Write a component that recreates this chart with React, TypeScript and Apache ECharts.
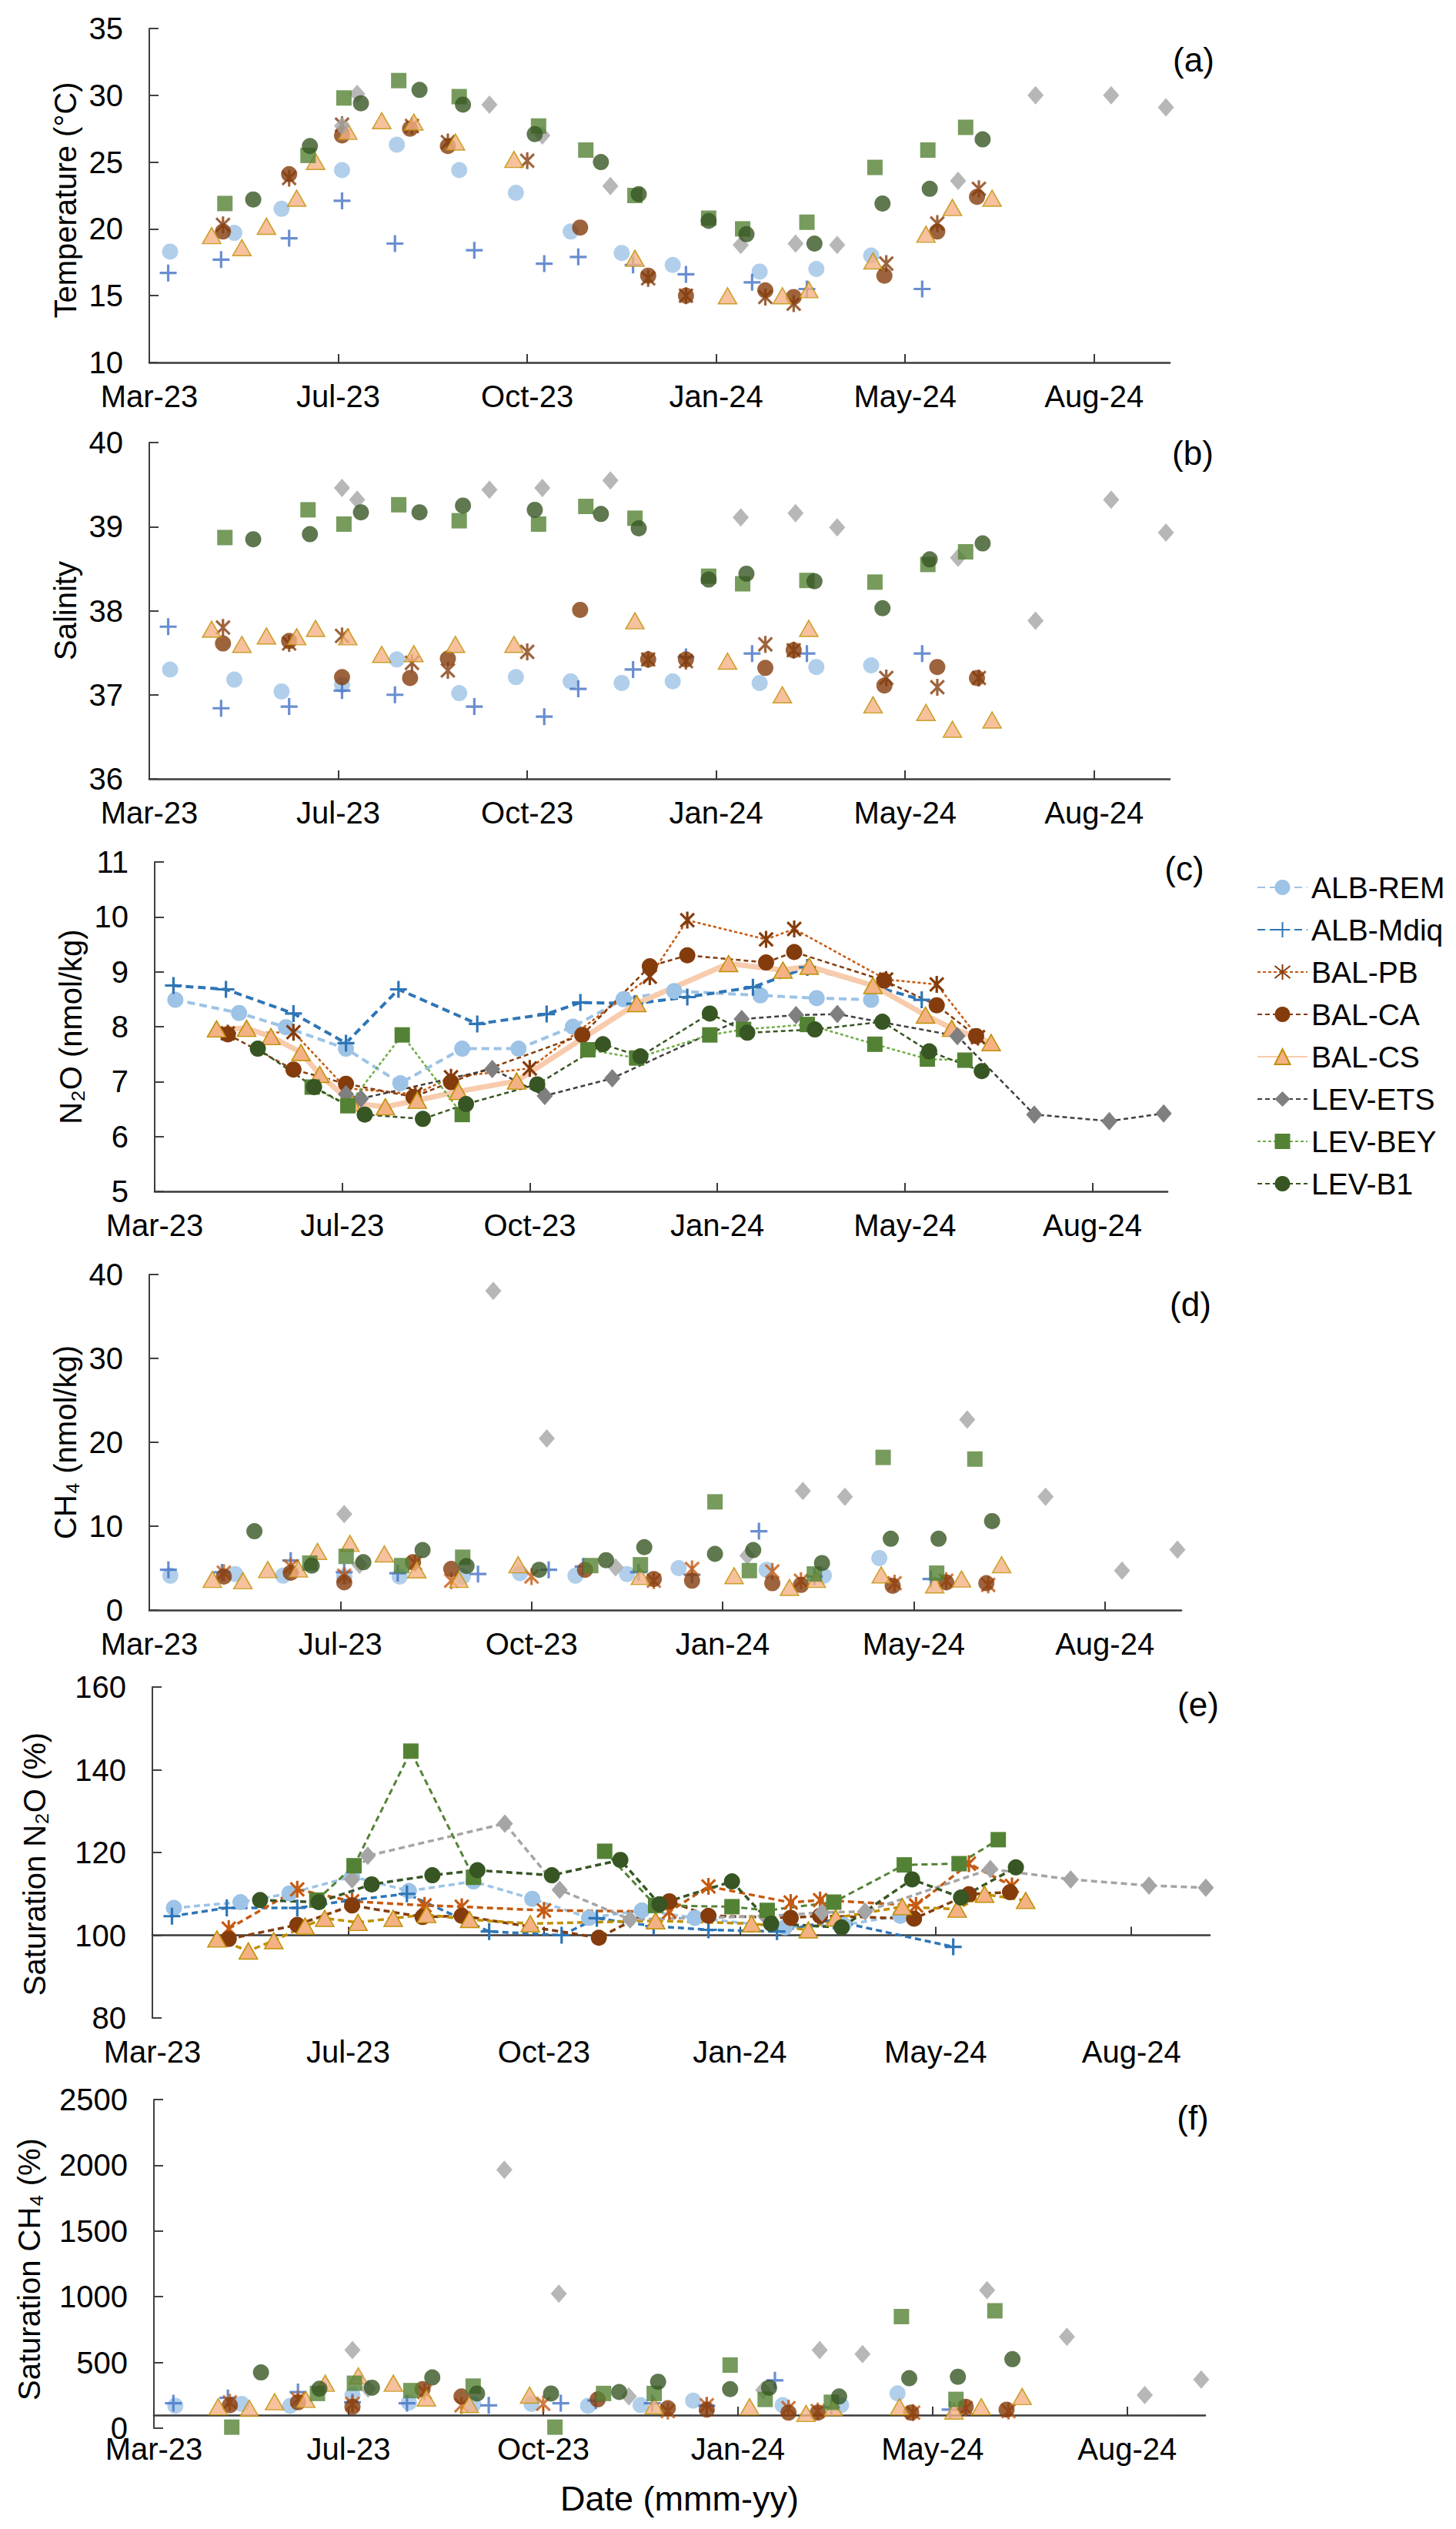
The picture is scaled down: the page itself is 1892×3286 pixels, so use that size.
import React, { useEffect, useRef } from "react";
import * as echarts from "echarts";

// x values: days since 30 Mar 2023 (axis origin, labelled "Mar-23")
const X_TICKS = [0, 100, 200, 300, 400, 500];
const MONTHS = ["Jan", "Feb", "Mar", "Apr", "May", "Jun", "Jul", "Aug", "Sep", "Oct", "Nov", "Dec"];
const ORIGIN = Date.UTC(2023, 2, 30);

// ---------- ALB-REM ----------
const ALB_REM_DAY = [11, 45, 70, 102, 131, 164, 194, 223, 250, 277, 323, 353, 382];
const ALB_REM_T = [18.3, 19.7, 21.5, 24.4, 26.3, 24.4, 22.7, 19.8, 18.2, 17.3, 16.8, 17.0, 18.0];
const ALB_REM_S = [37.3, 37.18, 37.04, 37.12, 37.42, 37.02, 37.21, 37.16, 37.14, 37.16, 37.14, 37.33, 37.35];
const ALB_REM_N2O = [8.49, 8.25, 7.99, 7.6, 6.97, 7.6, 7.6, 8.0, 8.5, 8.65, 8.57, 8.52, 8.49];
const ALB_REM_CH4 = [4.1, 4.3, 4.1, 4.0, 4.0, 4.0, 4.4, 4.1, 4.3, 5.0, 4.8, 4.1, 6.2];
const ALB_REM_SATN2O = [106.6, 108.0, 110.1, 114.2, 110.7, 113.0, 108.8, 104.2, 106.0, 104.2, 101.9, 102.5, 104.7];
const ALB_REM_SATCH4 = [170, 185, 170, 250, 195, 180, 185, 170, 175, 210, 175, 175, 265];

// ---------- ALB-Mdiq ----------
const ALB_MDIQ_DAY = [10, 38, 74, 102, 130, 172, 209, 227, 256, 284, 319, 348, 409];
const ALB_MDIQ_T = [16.7, 17.7, 19.3, 22.1, 18.9, 18.4, 17.4, 17.9, 17.3, 16.6, 16.0, 15.5, 15.5];
const ALB_MDIQ_S = [37.81, 36.84, 36.86, 37.05, 37.0, 36.86, 36.74, 37.07, 37.3, 37.45, 37.49, 37.49, 37.49];
const ALB_MDIQ_N2O = [8.75, 8.68, 8.24, 7.7, 8.68, 8.05, 8.23, 8.44, 8.42, 8.54, 8.72, 9.08, 8.49];
const ALB_MDIQ_CH4 = [4.8, 4.5, 5.9, 4.5, 4.4, 4.3, 4.8, 5.2, 4.5, 4.2, 9.4, 4.0, 3.7];
const ALB_MDIQ_SATN2O = [104.6, 106.6, 106.6, 108.5, 110.0, 100.9, 100.0, 104.1, 102.2, 101.3, 100.9, 103.5, 97.2];
const ALB_MDIQ_SATCH4 = [190, 230, 275, 197, 190, 174, 190, 210, 190, 170, 364, 160, 141];

// ---------- BAL-PB ----------
const BAL_PB_DAY = [39, 74, 102, 139, 158, 200, 264, 284, 326, 341, 390, 417, 439];
const BAL_PB_T = [20.3, 23.8, 27.8, 27.7, 26.5, 25.1, 16.3, 15.0, 14.9, 14.4, 17.4, 20.4, 23.0];
const BAL_PB_S = [37.8, 37.61, 37.7, 37.38, 37.29, 37.51, 37.42, 37.4, 37.6, 37.53, 37.2, 37.09, 37.2];
const BAL_PB_N2O = [7.88, 7.9, 6.88, 6.77, 7.08, 7.24, 8.91, 9.94, 9.59, 9.78, 8.86, 8.77, 7.81];
const BAL_PB_CH4 = [4.45, 5.2, 4.1, 5.6, 3.5, 4.0, 3.5, 4.9, 4.6, 3.5, 3.2, 3.5, 3.0];
const BAL_PB_SATN2O = [101.6, 111.1, 108.2, 107.2, 106.9, 106.0, 105.7, 111.8, 107.9, 108.5, 107.2, 117.3, 111.9];
const BAL_PB_SATCH4 = [197, 219, 185, 275, 174, 185, 130, 174, 152, 130, 118, 152, 130];

// ---------- BAL-CA ----------
const BAL_CA_DAY = [39, 74, 102, 138, 158, 228, 264, 284, 326, 341, 389, 417, 438];
const BAL_CA_T = [19.8, 24.1, 27.0, 27.5, 26.2, 20.1, 16.5, 15.0, 15.4, 14.9, 16.5, 19.8, 22.4];
const BAL_CA_S = [37.61, 37.64, 37.21, 37.2, 37.43, 38.01, 37.42, 37.42, 37.32, 37.53, 37.11, 37.33, 37.2];
const BAL_CA_N2O = [7.86, 7.22, 6.96, 6.72, 6.99, 7.85, 9.1, 9.3, 9.17, 9.36, 8.84, 8.39, 7.83];
const BAL_CA_CH4 = [4.0, 4.45, 3.3, 5.7, 4.9, 4.8, 3.7, 3.5, 3.2, 3.0, 2.9, 3.3, 3.2];
const BAL_CA_SATN2O = [99.1, 102.5, 107.2, 104.4, 104.7, 99.4, 108.2, 104.7, 104.2, 104.7, 104.0, 109.9, 110.4];
const BAL_CA_SATCH4 = [174, 197, 163, 297, 241, 219, 152, 141, 118, 118, 118, 163, 141];

// ---------- BAL-CS ----------
const BAL_CS_DAY = [33, 49, 62, 78, 88, 105, 123, 140, 162, 193, 257, 306, 335, 349, 383, 411, 425, 446];
const BAL_CS_T = [19.5, 18.6, 20.2, 22.3, 25.05, 27.3, 28.1, 28.0, 26.5, 25.2, 17.8, 15.0, 15.0, 15.45, 17.6, 19.6, 21.6, 22.3];
const BAL_CS_S = [37.78, 37.6, 37.7, 37.69, 37.79, 37.69, 37.48, 37.49, 37.6, 37.6, 37.88, 37.4, 37.0, 37.79, 36.88, 36.79, 36.59, 36.7];
const BAL_CS_N2O = [7.96, 7.97, 7.82, 7.53, 7.13, 6.61, 6.54, 6.66, 6.82, 7.01, 8.42, 9.15, 9.03, 9.1, 8.75, 8.21, 7.97, 7.71];
const BAL_CS_CH4 = [3.66, 3.5, 4.83, 4.9, 7.0, 7.95, 6.7, 4.8, 3.66, 5.4, 4.0, 4.1, 2.7, 3.66, 4.2, 3.0, 3.7, 5.4];
const BAL_CS_SATN2O = [99.1, 96.2, 98.7, 102.2, 104.1, 103.1, 104.1, 105.0, 103.8, 102.8, 103.5, 102.8, 101.3, 104.2, 106.9, 106.3, 109.9, 108.4];
const BAL_CS_SATCH4 = [163, 152, 201, 219, 342, 398, 342, 230, 180, 252, 170, 163, 112, 156, 163, 130, 163, 241];

// ---------- LEV-ETS ----------
const LEV_ETS_DAY = [102, 110, 180, 208, 244, 313, 342, 364, 428, 469, 509, 538];
const LEV_ETS_T = [27.7, 30.1, 29.3, 27.0, 23.2, 18.8, 18.9, 18.8, 23.6, 30.0, 30.0, 29.1];
const LEV_ETS_S = [39.46, 39.32, 39.44, 39.46, 39.55, 39.11, 39.16, 38.99, 38.63, 37.88, 39.32, 38.93];
const LEV_ETS_N2O = [6.77, 6.69, 7.23, 6.74, 7.06, 8.14, 8.21, 8.23, 7.83, 6.4, 6.28, 6.42];
const LEV_ETS_CH4 = [11.45, 5.4, 38.06, 20.45, 5.1, 6.5, 14.2, 13.5, 22.7, 13.5, 4.7, 7.2];
const LEV_ETS_SATN2O = [113.5, 119.2, 127.0, 111.0, 103.8, 104.6, 105.5, 105.7, 116.0, 113.5, 112.0, 111.5];
const LEV_ETS_SATCH4 = [594, 300, 1966, 1023, 241, 290, 594, 563, 1050, 695, 252, 371];

// ---------- LEV-BEY ----------
const LEV_BEY_DAY = [40, 84, 103, 132, 164, 206, 231, 257, 296, 314, 348, 384, 412, 432];
const LEV_BEY_T = [21.9, 25.5, 29.8, 31.1, 29.9, 27.7, 25.9, 22.5, 20.8, 20.0, 20.5, 24.6, 25.9, 27.6];
const LEV_BEY_S = [38.87, 39.2, 39.03, 39.26, 39.07, 39.03, 39.24, 39.1, 38.41, 38.32, 38.36, 38.34, 38.55, 38.7];
const LEV_BEY_N2O = [null, 6.9, 6.56, 7.85, 6.4, null, 7.58, 7.43, 7.85, 7.95, 8.04, 7.68, 7.41, 7.39];
const LEV_BEY_CH4 = [null, 5.6, 6.4, 5.3, 6.3, null, 5.3, 5.4, 12.9, 4.7, 4.3, 18.2, 4.4, 18.0];
const LEV_BEY_SATN2O = [null, 108.5, 116.8, 144.5, 114.0, null, 120.3, 107.2, 106.9, 106.0, 108.0, 117.0, 117.3, 123.1];
const LEV_BEY_SATCH4 = [8, 264, 342, 286, 320, 8, 264, 264, 480, 219, 197, 849, 219, 893];

// ---------- LEV-B1 ----------
const LEV_B1_DAY = [55, 85, 112, 143, 166, 204, 239, 259, 296, 316, 352, 388, 413, 441];
const LEV_B1_T = [22.2, 26.2, 29.4, 30.4, 29.3, 27.1, 25.0, 22.6, 20.6, 19.6, 18.9, 21.9, 23.0, 26.7];
const LEV_B1_S = [38.85, 38.91, 39.17, 39.17, 39.25, 39.2, 39.15, 38.98, 38.37, 38.44, 38.35, 38.03, 38.61, 38.8];
const LEV_B1_N2O = [7.6, 6.9, 6.4, 6.32, 6.59, 6.95, 7.68, 7.46, 8.24, 7.89, 7.95, 8.09, 7.55, 7.19];
const LEV_B1_CH4 = [9.4, 5.3, 5.7, 7.15, 5.25, 4.8, 5.95, 7.5, 6.7, 7.15, 5.6, 8.5, 8.5, 10.6];
const LEV_B1_SATN2O = [108.5, 108.0, 112.3, 114.5, 115.7, 114.5, 118.2, 107.5, 113.0, 102.8, 101.9, 113.5, 109.1, 116.4];
const LEV_B1_SATCH4 = [424, 300, 308, 386, 264, 264, 275, 353, 297, 308, 241, 380, 391, 525];

const STATIONS = [
  { name: "ALB-REM", day: ALB_REM_DAY, v: [ALB_REM_T, ALB_REM_S, ALB_REM_N2O, ALB_REM_CH4, ALB_REM_SATN2O, ALB_REM_SATCH4] },
  { name: "ALB-Mdiq", day: ALB_MDIQ_DAY, v: [ALB_MDIQ_T, ALB_MDIQ_S, ALB_MDIQ_N2O, ALB_MDIQ_CH4, ALB_MDIQ_SATN2O, ALB_MDIQ_SATCH4] },
  { name: "BAL-PB", day: BAL_PB_DAY, v: [BAL_PB_T, BAL_PB_S, BAL_PB_N2O, BAL_PB_CH4, BAL_PB_SATN2O, BAL_PB_SATCH4] },
  { name: "BAL-CA", day: BAL_CA_DAY, v: [BAL_CA_T, BAL_CA_S, BAL_CA_N2O, BAL_CA_CH4, BAL_CA_SATN2O, BAL_CA_SATCH4] },
  { name: "BAL-CS", day: BAL_CS_DAY, v: [BAL_CS_T, BAL_CS_S, BAL_CS_N2O, BAL_CS_CH4, BAL_CS_SATN2O, BAL_CS_SATCH4] },
  { name: "LEV-ETS", day: LEV_ETS_DAY, v: [LEV_ETS_T, LEV_ETS_S, LEV_ETS_N2O, LEV_ETS_CH4, LEV_ETS_SATN2O, LEV_ETS_SATCH4] },
  { name: "LEV-BEY", day: LEV_BEY_DAY, v: [LEV_BEY_T, LEV_BEY_S, LEV_BEY_N2O, LEV_BEY_CH4, LEV_BEY_SATN2O, LEV_BEY_SATCH4] },
  { name: "LEV-B1", day: LEV_B1_DAY, v: [LEV_B1_T, LEV_B1_S, LEV_B1_N2O, LEV_B1_CH4, LEV_B1_SATN2O, LEV_B1_SATCH4] },
];

// ---------- layout & styles ----------
const FONT = "'Liberation Sans', Arial, sans-serif";
const W = 1892;
const H = 3286;

const PANELS = [
  { label: "(a)", lx: 1551, ly: 77, left: 194, top: 37, right: 1520, bottom: 471, min: 10, max: 35, interval: 5, name: "Temperature (°C)", gap: 84, shift: 12, lines: false, cross: null },
  { label: "(b)", lx: 1550, ly: 588, left: 194, top: 575, right: 1520, bottom: 1012, min: 36, max: 40, interval: 1, name: "Salinity", gap: 86, shift: 0, lines: false, cross: null },
  { label: "(c)", lx: 1539, ly: 1128, left: 201, top: 1120, right: 1517, bottom: 1548, min: 5, max: 11, interval: 1, name: "N₂O (nmol/kg)", gap: 86, shift: 0, lines: true, cross: null },
  { label: "(d)", lx: 1547, ly: 1694, left: 194, top: 1656, right: 1535, bottom: 2092, min: 0, max: 40, interval: 10, name: "CH₄ (nmol/kg)", gap: 77, shift: 0, lines: false, cross: null },
  { label: "(e)", lx: 1557, ly: 2214, left: 198, top: 2192, right: 1572, bottom: 2622, min: 80, max: 160, interval: 20, name: "Saturation N₂O (%)", gap: 133, shift: 30, lines: true, cross: 100 },
  { label: "(f)", lx: 1550, ly: 2751, left: 200, top: 2728, right: 1566, bottom: 3155, min: 0, max: 2500, interval: 500, name: "Saturation CH₄ (%)", gap: 142, shift: 14, lines: false, cross: 100 },
];

const PLUS = "path://M5,0L5,10M0,5L10,5";
const STAR = "path://M1,1L9,9M9,1L1,9M5,0L5,10";

const MARK: Record<string, any> = {
  "ALB-REM": { symbol: "circle", size: 21 },
  "ALB-Mdiq": { symbol: PLUS, size: 22, stroke: true },
  "BAL-PB": { symbol: STAR, size: 22, stroke: true },
  "BAL-CA": { symbol: "circle", size: 21 },
  "BAL-CS": { symbol: "triangle", size: [24, 21] },
  "LEV-ETS": { symbol: "diamond", size: [21, 24] },
  "LEV-BEY": { symbol: "rect", size: 20 },
  "LEV-B1": { symbol: "circle", size: 21 },
};

// marker colour per station, for scatter panels (a, b, d, f)
function scatterColor(name: string, p: number) {
  switch (name) {
    case "ALB-REM": return "#9DC3E6";
    case "ALB-Mdiq": return "#4472C4";
    case "BAL-PB": return p <= 1 ? "#843C0C" : "#C55A11";
    case "BAL-CA": return "#843C0C";
    case "BAL-CS": return "#F4B183";
    case "LEV-ETS": return "#A5A5A5";
    case "LEV-BEY": return "#548235";
    default: return "#375623";
  }
}

// style of the line panels: marker colour, line colour, dash, width
const LINE_C: Record<string, any> = {
  "ALB-REM": { m: "#9DC3E6", l: "#9DC3E6", dash: [10, 6], w: 4 },
  "ALB-Mdiq": { m: "#2E75B6", l: "#2E75B6", dash: [10, 6], w: 4 },
  "BAL-PB": { m: "#843C0C", l: "#C55A11", dash: [4, 3], w: 2.5 },
  "BAL-CA": { m: "#843C0C", l: "#843C0C", dash: [6, 4], w: 2.5 },
  "BAL-CS": { m: "#F4B183", l: "#F8CBAD", dash: "solid", w: 7 },
  "LEV-ETS": { m: "#7F7F7F", l: "#404040", dash: [6, 4], w: 2.5 },
  "LEV-BEY": { m: "#548235", l: "#70AD47", dash: [4, 3], w: 2.5 },
  "LEV-B1": { m: "#375623", l: "#375623", dash: [6, 4], w: 2.5 },
};
const LINE_E: Record<string, any> = {
  "ALB-REM": { m: "#9DC3E6", l: "#9DC3E6", dash: [8, 5], w: 3.5 },
  "ALB-Mdiq": { m: "#2E75B6", l: "#2E75B6", dash: [8, 5], w: 3.5 },
  "BAL-PB": { m: "#C55A11", l: "#C55A11", dash: [8, 5], w: 3.5 },
  "BAL-CA": { m: "#843C0C", l: "#843C0C", dash: [8, 5], w: 3.5 },
  "BAL-CS": { m: "#F4B183", l: "#BF9000", dash: [8, 5], w: 3.5 },
  "LEV-ETS": { m: "#A5A5A5", l: "#A5A5A5", dash: [8, 5], w: 3.5 },
  "LEV-BEY": { m: "#548235", l: "#548235", dash: [8, 5], w: 3 },
  "LEV-B1": { m: "#375623", l: "#375623", dash: [8, 5], w: 3.5 },
};

function fmtDate(v: number) {
  const d = new Date(ORIGIN + v * 86400000);
  return MONTHS[d.getUTCMonth()] + "-" + String(d.getUTCFullYear()).slice(2);
}

function itemStyleFor(name: string, color: string) {
  const mk = MARK[name];
  if (mk.stroke) return { color: color, borderColor: color, borderWidth: 3.2 };
  if (name === "BAL-CS") return { color: "#F4B183", borderColor: "#BF9000", borderWidth: 1.5 };
  return { color: color };
}

function buildOption() {
  const grid: any[] = [];
  const xAxis: any[] = [];
  const yAxis: any[] = [];
  const graphic: any[] = [];
  const series: any[] = [];
  const extraX: any[] = [];

  PANELS.forEach((p, i) => {
    const gh = p.bottom - p.top;
    grid.push({ left: p.left, top: p.top, width: p.right - p.left, height: gh, containLabel: false, outerBoundsMode: "none" });
    const crossOffset = p.cross == null ? 0 : -((p.cross - p.min) / (p.max - p.min)) * gh;
    const labelOnly = p.label === "(e)";
    xAxis.push({
      type: "value",
      gridIndex: i,
      min: 0,
      max: 540,
      interval: 100,
      position: "bottom",
      offset: labelOnly ? 0 : crossOffset,
      axisLine: { show: !labelOnly, onZero: false, lineStyle: { color: "#3A3A3A", width: 2.6 } },
      axisTick: { show: !labelOnly, inside: true, length: 11, customValues: X_TICKS, lineStyle: { color: "#3A3A3A", width: 2 } },
      axisLabel: { show: true, customValues: X_TICKS, formatter: (v: number) => fmtDate(v), fontSize: 40, color: "#000", fontFamily: FONT, margin: 24 },
      splitLine: { show: false },
    });
    if (labelOnly) {
      extraX.push({
        type: "value",
        gridIndex: i,
        min: 0,
        max: 540,
        interval: 100,
        position: "bottom",
        offset: crossOffset,
        axisLine: { show: true, onZero: false, lineStyle: { color: "#3A3A3A", width: 2.6 } },
        axisTick: { show: true, inside: true, length: 11, customValues: X_TICKS, lineStyle: { color: "#3A3A3A", width: 2 } },
        axisLabel: { show: false },
        splitLine: { show: false },
      });
    }
    yAxis.push({
      type: "value",
      gridIndex: i,
      min: p.min,
      max: p.max,
      interval: p.interval,
      axisLine: { show: true, onZero: false, lineStyle: { color: "#404040", width: 2 } },
      axisTick: { show: true, inside: true, length: 12, lineStyle: { color: "#404040", width: 2 } },
      axisLabel: { fontSize: 40, color: "#000", fontFamily: FONT, margin: 34, formatter: (v: number) => String(v) },
      splitLine: { show: false },
      name: p.name,
      nameLocation: "middle",
      nameRotate: 90,
      nameGap: p.gap,
      nameTextStyle: { fontSize: 40, color: "#000", fontFamily: FONT, padding: [0, p.shift, 0, 0] },
    });
    graphic.push({
      type: "text",
      x: p.lx,
      y: p.ly,
      style: { text: p.label, fontSize: 44, fontFamily: FONT, fill: "#000", textAlign: "center", textVerticalAlign: "middle" },
    });
  });

  // line panels first (so the legend takes their line + marker look)
  const order = [2, 4, 0, 1, 3, 5];
  order.forEach((pi) => {
    const p = PANELS[pi];
    STATIONS.forEach((s) => {
      const vals = s.v[pi];
      const mk = MARK[s.name];
      if (p.lines) {
        const st = pi === 2 ? LINE_C[s.name] : LINE_E[s.name];
        series.push({
          type: "line",
          name: s.name,
          xAxisIndex: pi,
          yAxisIndex: pi,
          data: s.day.map((d, k) => [d, vals[k] == null ? null : vals[k]]),
          symbol: mk.symbol,
          symbolSize: mk.size,
          symbolKeepAspect: true,
          showSymbol: true,
          showAllSymbol: true,
          connectNulls: false,
          itemStyle: itemStyleFor(s.name, st.m),
          lineStyle: { color: st.l, width: st.w, type: st.dash },
          emphasis: { disabled: true },
          silent: true,
        });
      } else {
        const col = scatterColor(s.name, pi);
        const pts: any[] = [];
        s.day.forEach((d, k) => {
          if (vals[k] != null) pts.push([d, vals[k]]);
        });
        series.push({
          type: "scatter",
          name: s.name,
          xAxisIndex: pi,
          yAxisIndex: pi,
          data: pts,
          symbol: mk.symbol,
          symbolSize: mk.size,
          symbolKeepAspect: true,
          itemStyle: itemStyleFor(s.name, col),
          emphasis: { disabled: true },
          silent: true,
        });
      }
    });
  });

  graphic.push({
    type: "text",
    x: 883,
    y: 3246,
    style: { text: "Date (mmm-yy)", fontSize: 45, fontFamily: FONT, fill: "#000", textAlign: "center", textVerticalAlign: "middle" },
  });

  return {
    animation: false,
    backgroundColor: "#ffffff",
    textStyle: { fontFamily: FONT },
    grid,
    xAxis: xAxis.concat(extraX),
    yAxis,
    legend: {
      orient: "vertical",
      left: 1628,
      top: 1128,
      itemWidth: 65,
      itemHeight: 25,
      itemGap: 15,
      selectedMode: false,
      data: STATIONS.map((s) => s.name),
      textStyle: { fontSize: 39, lineHeight: 40, color: "#000", fontFamily: FONT },
    },
    graphic,
    series,
  };
}

export default function App() {
  const ref = useRef<HTMLDivElement>(null);
  useEffect(() => {
    if (!ref.current) return;
    const chart = echarts.init(ref.current, null, { renderer: "svg" });
    chart.setOption(buildOption() as any);
    return () => chart.dispose();
  }, []);
  return (
    <div
      ref={ref}
      style={{ position: "absolute", left: 0, top: 0, width: W, height: H, background: "#fff" }}
    />
  );
}
